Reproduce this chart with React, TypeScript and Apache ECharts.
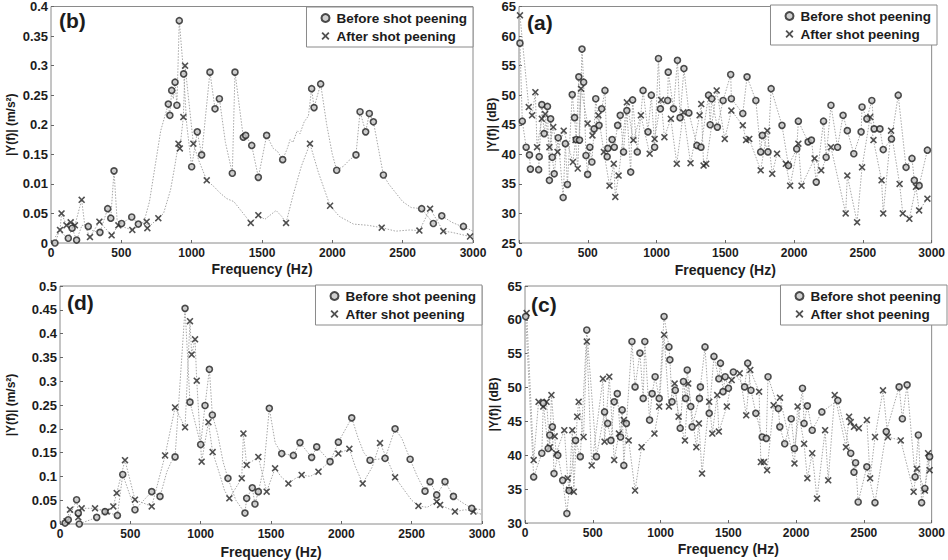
import React, { useEffect, useRef } from 'react';
import * as echarts from 'echarts';

// ---------- data (frequency Hz, |Y(f)|) ----------
// Panel (b): acceleration amplitude, m/s^2
const bBeforeMarks = [[28,0.0],[123,0.008],[150,0.025],[182,0.005],[265,0.028],[348,0.018],[403,0.058],[425,0.042],[448,0.122],[502,0.033],[574,0.044],[621,0.032],[834,0.235],[845,0.216],[858,0.258],[882,0.272],[895,0.233],[912,0.376],[943,0.286],[1000,0.129],[1040,0.188],[1071,0.149],[1130,0.289],[1166,0.227],[1197,0.244],[1289,0.118],[1308,0.289],[1367,0.179],[1384,0.182],[1427,0.165],[1474,0.111],[1533,0.182],[1647,0.141],[1853,0.261],[1870,0.229],[1917,0.269],[2031,0.123],[2168,0.149],[2197,0.222],[2237,0.188],[2263,0.219],[2292,0.205],[2363,0.115],[2635,0.058],[2718,0.033],[2778,0.046],[2932,0.028]];
const bBeforeLine = [[60,0.02],[220,0.03],[300,0.02],[470,0.038],[660,0.035],[700,0.07],[740,0.13],[780,0.19],[870,0.244],[965,0.2],[1240,0.17],[1580,0.16],[1610,0.155],[1680,0.16],[1700,0.175],[1720,0.17],[1750,0.19],[1770,0.185],[1800,0.205],[1830,0.215],[1960,0.2],[2000,0.15],[2080,0.13],[2120,0.14],[2400,0.1],[2450,0.085],[2500,0.07],[2560,0.06],[2850,0.035],[2900,0.03],[3000,0.02]];
const bAfterMarks = [[64,0.022],[75,0.05],[110,0.03],[140,0.035],[170,0.03],[218,0.073],[277,0.01],[344,0.036],[431,0.013],[479,0.03],[578,0.022],[680,0.036],[685,0.025],[763,0.042],[906,0.168],[916,0.16],[941,0.213],[953,0.3],[1012,0.168],[1107,0.106],[1420,0.034],[1474,0.047],[1671,0.034],[1841,0.168],[1984,0.063],[2351,0.026],[2619,0.021],[2695,0.058],[2789,0.02],[2979,0.011]];
const bAfterLine = [[30,0.01],[240,0.03],[800,0.05],[850,0.09],[880,0.13],[1050,0.14],[1160,0.095],[1200,0.085],[1250,0.075],[1300,0.07],[1350,0.055],[1520,0.04],[1600,0.055],[1640,0.045],[1720,0.08],[1780,0.13],[1900,0.12],[2050,0.045],[2150,0.032],[2250,0.03],[2450,0.02],[2550,0.022],[2850,0.018]];

// Panel (a): dB
const aBefore = [[7,58.8],[24,45.6],[52,41.2],[76,39.9],[83,37.5],[143,37.4],[147,39.6],[166,48.4],[183,43.5],[207,48.1],[221,35.6],[230,46],[242,39.5],[256,36.7],[285,42.8],[321,32.7],[337,41.8],[352,34.9],[387,50.1],[404,46.2],[416,42.5],[435,53.1],[440,42.4],[458,57.8],[470,52.2],[487,39.8],[499,36.6],[515,41.2],[530,38.7],[546,44.3],[558,49.4],[582,44.9],[601,47.7],[625,50.8],[641,39.6],[646,41],[677,42.5],[693,41.2],[717,44.9],[736,46.6],[760,40.4],[784,47.4],[812,37],[826,49.2],[860,40.4],[902,50.8],[938,43.8],[962,50],[986,41.2],[1014,56.2],[1028,47.7],[1081,49.1],[1085,53.9],[1123,47.7],[1152,55.9],[1171,46.2],[1199,54.5],[1235,47],[1294,41.5],[1323,41.2],[1378,50],[1390,45],[1401,49.4],[1442,44.6],[1484,49.1],[1539,53.5],[1544,49.4],[1627,46.9],[1658,53.1],[1722,49.1],[1757,40.4],[1769,43.2],[1810,40.4],[1833,51.1],[1912,44.9],[1959,38.1],[2019,40.9],[2031,45.6],[2102,42.1],[2126,42.4],[2161,35.3],[2214,45.6],[2233,39.5],[2268,48.3],[2316,41.2],[2356,46.6],[2387,44],[2434,40.1],[2487,43.8],[2494,48],[2529,46],[2565,49.1],[2582,44.3],[2624,44.3],[2648,40.8],[2708,42.6],[2757,50],[2814,37.8],[2857,39.3],[2874,35.6],[2909,34.7],[2969,40.7]];
const aAfter = [[7,63.5],[71,48],[95,46.6],[119,50.5],[131,41.2],[166,46],[190,46.8],[221,41.2],[249,44.6],[280,40.4],[325,44],[392,38.7],[411,42.4],[427,37.6],[451,51.1],[499,45.2],[534,43.2],[577,46.6],[617,40.4],[658,34.7],[689,38.4],[700,32.8],[724,36.4],[784,48.8],[831,42.4],[886,46.6],[950,40.1],[986,42.6],[1033,49.2],[1057,42.9],[1104,46],[1147,38.4],[1195,47.1],[1247,38.5],[1313,46.6],[1325,48.5],[1342,38.1],[1361,38.4],[1437,50.8],[1496,42.6],[1544,47.4],[1627,44.9],[1651,42.4],[1674,42.6],[1757,37.3],[1805,44],[1841,36.7],[1876,40.1],[1940,38.4],[1971,34.7],[2031,41.8],[2054,34.7],[2149,39.3],[2197,37.3],[2268,41.2],[2375,30],[2387,36.4],[2458,28.5],[2494,37.8],[2553,46.3],[2577,42.4],[2636,35.6],[2648,30],[2705,44],[2767,35],[2790,30],[2838,29.1],[2886,34.5],[2909,30.5],[2969,32.5]];

// Panel (d): acceleration amplitude, m/s^2
const dBeforeMarks = [[36,0.002],[59,0.009],[118,0.051],[130,0.023],[137,0.0],[261,0.014],[320,0.026],[408,0.018],[446,0.104],[533,0.03],[652,0.068],[711,0.058],[818,0.141],[889,0.453],[924,0.256],[1000,0.167],[1031,0.249],[1062,0.325],[1083,0.229],[1194,0.096],[1315,0.023],[1327,0.054],[1367,0.076],[1386,0.042],[1410,0.068],[1488,0.243],[1576,0.148],[1659,0.144],[1706,0.171],[1789,0.14],[1825,0.162],[1920,0.131],[1979,0.172],[2074,0.223],[2204,0.134],[2311,0.138],[2382,0.2],[2489,0.136],[2595,0.069],[2631,0.089],[2678,0.061],[2737,0.089],[2797,0.058],[2927,0.033]];
const dBeforeLine = [[760,0.11],[790,0.13],[1120,0.19],[1160,0.13],[1250,0.05],[1450,0.12],[1530,0.17],[2120,0.18],[2160,0.15],[2430,0.18],[2540,0.1],[2860,0.045],[3000,0.03]];
const dAfterMarks = [[47,0.006],[71,0.03],[130,0.014],[154,0.033],[249,0.033],[332,0.026],[379,0.037],[403,0.065],[462,0.134],[533,0.051],[652,0.037],[747,0.144],[818,0.245],[889,0.203],[924,0.426],[936,0.356],[960,0.388],[972,0.301],[1007,0.131],[1055,0.214],[1085,0.151],[1204,0.054],[1292,0.096],[1304,0.19],[1327,0.124],[1410,0.141],[1469,0.068],[1529,0.117],[1624,0.085],[1718,0.103],[1837,0.11],[1979,0.148],[2057,0.158],[2152,0.085],[2275,0.17],[2382,0.098],[2548,0.038],[2678,0.047],[2702,0.04],[2808,0.026],[2939,0.026]];
const dAfterLine = [[1140,0.1],[1170,0.07],[1570,0.1],[1670,0.095],[1780,0.1],[2100,0.12],[2220,0.12],[2450,0.07],[2500,0.05],[2610,0.035],[2880,0.03],[3000,0.02]];

// Panel (c): dB
const cBefore = [[5,60.5],[64,36.8],[124,40.3],[135,47.7],[171,41],[183,43],[202,44.2],[214,37.3],[242,40],[278,36.3],[309,31.4],[325,34.8],[373,42.2],[408,39.8],[456,58.5],[527,39.8],[587,46.4],[610,44.7],[634,42.2],[658,47.9],[681,49.1],[705,42.7],[717,46.7],[729,38.5],[748,44.7],[789,56.8],[812,50.1],[848,55.1],[872,48.4],[884,56.8],[919,45.2],[938,49.1],[960,51.6],[990,48.4],[1026,60.5],[1062,56],[1069,54.1],[1085,47.9],[1109,49.6],[1145,44],[1169,50.9],[1185,48.4],[1197,52.6],[1223,47.2],[1233,44.2],[1287,48.4],[1294,50.1],[1328,56],[1359,46.2],[1394,54.6],[1430,51.3],[1442,53.6],[1461,49.4],[1477,51.6],[1501,49.9],[1537,52.3],[1620,50.1],[1643,53.6],[1667,49.6],[1703,46.2],[1750,42.7],[1780,42.5],[1793,51.6],[1869,46.9],[1880,44.2],[1916,41.7],[1964,45.4],[1988,41],[2047,49.9],[2059,44.7],[2083,47.3],[2119,43.7],[2190,46.4],[2308,48.1],[2403,40.3],[2427,37.5],[2439,38.9],[2458,33.1],[2522,38.3],[2582,33],[2665,43.5],[2760,50.1],[2784,45.4],[2819,50.4],[2878,36.8],[2902,43],[2926,33],[2950,35.1],[2985,39.8]];
const cAfter = [[12,61],[64,39.3],[100,47.9],[135,47.2],[159,47.9],[183,41.2],[195,48.9],[219,42.8],[230,40.3],[290,43.7],[315,36.6],[325,34.9],[349,43.7],[360,34.6],[385,45.7],[396,47.9],[432,42.7],[456,56.8],[492,38.5],[575,51.3],[587,42],[622,51.6],[658,39.3],[693,43.2],[729,45.2],[765,42.2],[812,34.8],[860,41.2],[955,43.2],[990,47.2],[1026,57.8],[1062,47.2],[1104,50.6],[1133,45.7],[1180,42.2],[1204,50.6],[1264,41.2],[1283,44.7],[1306,37.3],[1359,47.9],[1382,43.2],[1418,48.9],[1430,43.5],[1489,47.2],[1525,51.1],[1584,52.1],[1632,45.9],[1662,52.6],[1727,49.4],[1740,39],[1763,39],[1786,37.8],[1834,47.4],[1881,48.5],[1988,38.8],[2011,47.2],[2059,41.7],[2083,36.6],[2119,40.3],[2154,33.6],[2214,43.7],[2237,36.3],[2285,48.9],[2368,41.2],[2391,45.7],[2403,44.9],[2427,44.2],[2463,44],[2522,45.2],[2546,36.6],[2582,42.7],[2641,49.6],[2677,42.7],[2772,42.2],[2867,34.6],[2891,38],[2950,34.8],[2974,40.3],[2985,37.8]];

// tick labels
const bYLabels = ['0', '0.05', '0.01', '0.15', '0.2', '0.25', '0.3', '0.35', '0.4'];
const dYLabels = ['0', '0.05', '0.1', '0.15', '0.2', '0.25', '0.3', '0.35', '0.4', '0.45', '0.5'];
const aYLabels = ['25', '30', '35', '40', '45', '50', '55', '60', '65'];
const cYLabels = ['30', '35', '40', '45', '50', '55', '60', '65'];
const xLabels = ['0', '500', '1000', '1500', '2000', '2500', '3000'];
const BEFORE = 'Before shot peening';
const AFTER = 'After shot peening';

const X_SYMBOL = 'path://M0,1.6L1.6,0L5,3.4L8.4,0L10,1.6L6.6,5L10,8.4L8.4,10L5,6.6L1.6,10L0,8.4L3.4,5Z';
const FONT = '"Liberation Sans", Arial, sans-serif';
const INK = '#1c1c1c';

const panels = [
  { tag: '(b)', grid: { left: 51, top: 6, width: 422, height: 237 }, y: { min: 0, max: 0.4, interval: 0.05, labels: bYLabels },
    yName: '|Y(f)| (m/s²)', yGap: 34, xGap: 19, tagPos: { left: 59, top: 10 }, legendPos: { right: 475, top: 7 },
    beforeMarks: bBeforeMarks, beforeLine: bBeforeLine, afterMarks: bAfterMarks, afterLine: bAfterLine },
  { tag: '(a)', grid: { left: 519, top: 6, width: 421, height: 237 }, y: { min: 25, max: 65, interval: 5, labels: aYLabels },
    yName: '|Y(f)| (dB)', yGap: 21, xGap: 20, tagPos: { left: 527, top: 12 }, legendPos: { right: 11, top: 5 },
    beforeMarks: aBefore, beforeLine: [], afterMarks: aAfter, afterLine: [] },
  { tag: '(d)', grid: { left: 60, top: 286, width: 422, height: 240 }, y: { min: 0, max: 0.5, interval: 0.05, labels: dYLabels },
    yName: '|Y(f)| (m/s²)', yGap: 43, xGap: 21, tagPos: { left: 67, top: 292 }, legendPos: { right: 466, top: 285 },
    beforeMarks: dBeforeMarks, beforeLine: dBeforeLine, afterMarks: dAfterMarks, afterLine: dAfterLine },
  { tag: '(c)', grid: { left: 525, top: 286, width: 421, height: 237 }, y: { min: 30, max: 65, interval: 5, labels: cYLabels },
    yName: '|Y(f)| (dB)', yGap: 25, xGap: 19, tagPos: { left: 531, top: 294 }, legendPos: { right: 1, top: 285 },
    beforeMarks: cBefore, beforeLine: [], afterMarks: cAfter, afterLine: [] },
];

function merged(a: number[][], b: number[][]) {
  return [...a, ...b].sort((p, q) => p[0] - q[0]);
}

function buildOption() {
  const grid: any[] = [];
  const xAxis: any[] = [];
  const yAxis: any[] = [];
  const series: any[] = [];
  const title: any[] = [];
  const legend: any[] = [];
  panels.forEach((p, i) => {
    grid.push({ ...p.grid, show: true, borderColor: '#8a8a8a', borderWidth: 1, backgroundColor: 'transparent' });
    xAxis.push({
      type: 'value', gridIndex: i, min: 0, max: 3000, interval: 500,
      name: 'Frequency (Hz)', nameLocation: 'middle', nameGap: p.xGap,
      nameTextStyle: { fontFamily: FONT, fontWeight: 'bold', fontSize: 14, color: INK },
      axisLine: { show: false }, splitLine: { show: false },
      axisTick: { show: true, inside: true, length: 3, lineStyle: { color: '#666' } },
      axisLabel: {
        fontFamily: FONT, fontWeight: 'bold', fontSize: 12, color: INK, margin: 4,
        showMaxLabel: true, showMinLabel: true,
        formatter: (v: number) => xLabels[Math.round(v / 500)] ?? '',
      },
    });
    const labels = p.y.labels;
    const ymin = p.y.min;
    const yint = p.y.interval;
    yAxis.push({
      type: 'value', gridIndex: i, min: p.y.min, max: p.y.max, interval: p.y.interval,
      name: p.yName, nameLocation: 'middle', nameGap: p.yGap,
      nameTextStyle: { fontFamily: FONT, fontWeight: 'bold', fontSize: 12, color: INK },
      axisLine: { show: false }, splitLine: { show: false },
      axisTick: { show: true, inside: true, length: 3, lineStyle: { color: '#666' } },
      axisLabel: {
        fontFamily: FONT, fontWeight: 'bold', fontSize: 13, color: INK, margin: 3,
        formatter: (v: number) => labels[Math.round((v - ymin) / yint)] ?? '',
      },
    });
    title.push({ text: p.tag, ...p.tagPos, padding: 0,
      textStyle: { fontFamily: FONT, fontWeight: 'bold', fontSize: 21, color: INK } });
    legend.push({
      ...p.legendPos, orient: 'vertical', data: [BEFORE, AFTER], selectedMode: false,
      itemWidth: 8, itemHeight: 8, itemGap: 4, padding: [4, 6, 4, 14],
      borderColor: '#8a8a8a', borderWidth: 1, backgroundColor: '#fff',
      textStyle: { fontFamily: FONT, fontWeight: 'bold', fontSize: 13.5, color: INK, padding: [0, 0, 0, 2] },
    });
    const lineStyle = { color: '#a6a6a6', width: 1, type: [1.5, 1.5] };
    series.push({
      type: 'line', name: 'before-line-' + i, xAxisIndex: i, yAxisIndex: i,
      data: merged(p.beforeMarks, p.beforeLine), showSymbol: false, symbol: 'none',
      lineStyle, silent: true, z: 2,
    });
    series.push({
      type: 'line', name: 'after-line-' + i, xAxisIndex: i, yAxisIndex: i,
      data: merged(p.afterMarks, p.afterLine), showSymbol: false, symbol: 'none',
      lineStyle, silent: true, z: 2,
    });
    series.push({
      type: 'scatter', name: BEFORE, xAxisIndex: i, yAxisIndex: i, data: p.beforeMarks,
      symbol: 'circle', symbolSize: 6,
      itemStyle: { color: '#c4c4c4', borderColor: '#222', borderWidth: 1.6 }, z: 4,
    });
    series.push({
      type: 'scatter', name: AFTER, xAxisIndex: i, yAxisIndex: i, data: p.afterMarks,
      symbol: X_SYMBOL, symbolSize: 7,
      itemStyle: { color: '#262626' }, z: 3,
    });
  });
  return { animation: false, backgroundColor: '#fff', textStyle: { fontFamily: FONT }, grid, xAxis, yAxis, series, title, legend };
}

export default function App() {
  const ref = useRef<HTMLDivElement>(null);
  useEffect(() => {
    if (!ref.current) return;
    const chart = echarts.init(ref.current, undefined, { renderer: 'svg' });
    chart.setOption(buildOption() as any);
    return () => chart.dispose();
  }, []);
  return <div ref={ref} style={{ position: 'absolute', left: 0, top: 0, width: 948, height: 560 }} />;
}
